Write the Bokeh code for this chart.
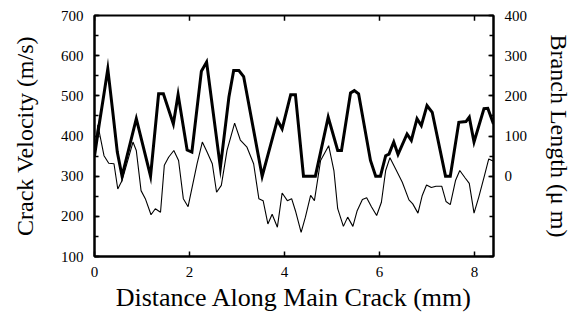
from bokeh.plotting import figure
from bokeh.models import Range1d, FixedTicker
from bokeh.embed import file_html
from bokeh.resources import INLINE
from bokeh.models import LinearAxis

# Crack velocity (thin line, left axis, m/s)
vel_x = [0.0, 0.07, 0.2, 0.3, 0.41, 0.49, 0.58, 0.81, 0.88, 0.98, 1.07, 1.19, 1.28, 1.39,
         1.47, 1.56, 1.67, 1.77, 1.87, 1.97, 2.16, 2.27, 2.37, 2.48, 2.57, 2.67, 2.79, 2.95,
         3.07, 3.21, 3.35, 3.46, 3.55, 3.65, 3.74, 3.85, 3.95, 4.06, 4.15, 4.23, 4.35, 4.44,
         4.55, 4.63, 4.76, 4.93, 5.04, 5.12, 5.24, 5.33, 5.44, 5.53, 5.64, 5.73, 5.83, 5.94,
         6.04, 6.13, 6.22, 6.34, 6.48, 6.62, 6.70, 6.81, 6.90, 6.99, 7.09, 7.19, 7.31, 7.40,
         7.49, 7.60, 7.69, 7.80, 7.89, 7.99, 8.09, 8.20, 8.30, 8.40]
vel_y = [360, 428, 351, 332, 331, 268, 289, 385, 364, 264, 244, 204, 219, 210,
         327, 347, 364, 339, 244, 224, 331, 385, 360, 331, 260, 277, 364, 432,
         390, 372, 331, 244, 239, 181, 205, 173, 258, 239, 244, 214, 160, 198,
         252, 239, 339, 376, 314, 219, 175, 198, 175, 214, 242, 246, 224, 202,
         235, 314, 346, 318, 285, 241, 231, 208, 252, 278, 272, 275, 275, 237,
         229, 289, 314, 296, 282, 208, 248, 297, 343, 337]

# Branch length (thick line, right axis, micrometres)
branch_x = [0.0, 0.1, 0.2, 0.28, 0.38, 0.48, 0.58, 0.88, 1.18, 1.35, 1.45, 1.66, 1.76, 1.95,
            2.05, 2.25, 2.36, 2.65, 2.83, 2.93, 3.04, 3.14, 3.53, 3.85, 3.95, 4.13, 4.23,
            4.40, 4.65, 4.92, 5.12, 5.20, 5.39, 5.47, 5.56, 5.81, 5.92, 6.02, 6.13, 6.20,
            6.30, 6.39, 6.58, 6.67, 6.79, 6.88, 7.00, 7.11, 7.39, 7.49, 7.67, 7.82, 7.89,
            7.99, 8.20, 8.28, 8.40]
branch_y = [50, 130, 205, 267, 165, 60, 0, 143, 0, 205, 205, 130, 203, 65,
            60, 261, 284, 22, 197, 263, 263, 248, 0, 140, 118, 203, 203,
            0, 0, 147, 64, 64, 207, 213, 205, 39, 0, 0, 51, 55,
            85, 54, 105, 89, 143, 126, 176, 159, 0, 0, 134, 136, 147,
            85, 168, 169, 130]

x_ticks = [0, 2, 4, 6, 8]
vel_ticks = [100, 200, 300, 400, 500, 600, 700]
branch_ticks = [0, 100, 200, 300, 400]

FONT = "Liberation Serif"

p = figure(width=578, height=316, output_backend="svg", toolbar_location=None,
           x_range=Range1d(0, 8.4), y_range=Range1d(100, 700),
           min_border_left=94, min_border_right=85, min_border_top=15, min_border_bottom=60)
p.extra_y_ranges = {"branch": Range1d(-200, 400)}
p.xgrid.visible = False
p.ygrid.visible = False
p.outline_line_color = "black"
p.outline_line_width = 2
p.outline_line_alpha = 1.0
p.background_fill_color = "white"


def style(ax):
    ax.axis_line_color = "black"
    ax.axis_line_width = 2
    ax.major_tick_in = 5
    ax.major_tick_out = 0
    ax.minor_tick_in = 4
    ax.minor_tick_out = 0
    ax.major_tick_line_color = "black"
    ax.minor_tick_line_color = "black"
    ax.major_tick_line_width = 1.5
    ax.minor_tick_line_width = 1.5
    ax.major_label_text_font = FONT
    ax.major_label_text_font_size = "15px"
    ax.major_label_text_color = "black"
    ax.axis_label_text_font = FONT
    ax.axis_label_text_font_style = "normal"
    ax.axis_label_text_color = "black"


xa = p.xaxis[0]
xa.ticker = FixedTicker(ticks=x_ticks, minor_ticks=[])
xa.axis_label = "Distance Along Main Crack (mm)"
style(xa)
xa.axis_label_text_font_size = "26px"
xa.major_label_standoff = 10
xa.axis_label_standoff = 3

ya = p.yaxis[0]
ya.ticker = FixedTicker(ticks=vel_ticks, minor_ticks=list(range(100, 701, 50)))
ya.axis_label = "Crack Velocity (m/s)"
style(ya)
ya.axis_label_text_font_size = "24px"
ya.major_label_standoff = 11
ya.axis_label_standoff = 20

ra = LinearAxis(y_range_name="branch",
                ticker=FixedTicker(ticks=branch_ticks, minor_ticks=list(range(-200, 401, 50))),
                axis_label="Branch Length (\u03bc m)")
style(ra)
ra.axis_label_text_font_size = "24px"
ra.major_label_standoff = 11
ra.axis_label_standoff = 16
p.add_layout(ra, "right")

# inward tick marks on the top frame edge, at the x tick positions
tick_len = 13  # in velocity units (~5 px)
p.segment(x0=x_ticks, x1=x_ticks, y0=[700] * len(x_ticks), y1=[700 - tick_len] * len(x_ticks),
          line_color="black", line_width=1.5)

p.line(vel_x, vel_y, line_width=1.1, line_color="black")
p.line(branch_x, branch_y, y_range_name="branch", line_width=3, line_color="black",
       line_join="miter")

open("out.html", "w").write(file_html(p, INLINE))
